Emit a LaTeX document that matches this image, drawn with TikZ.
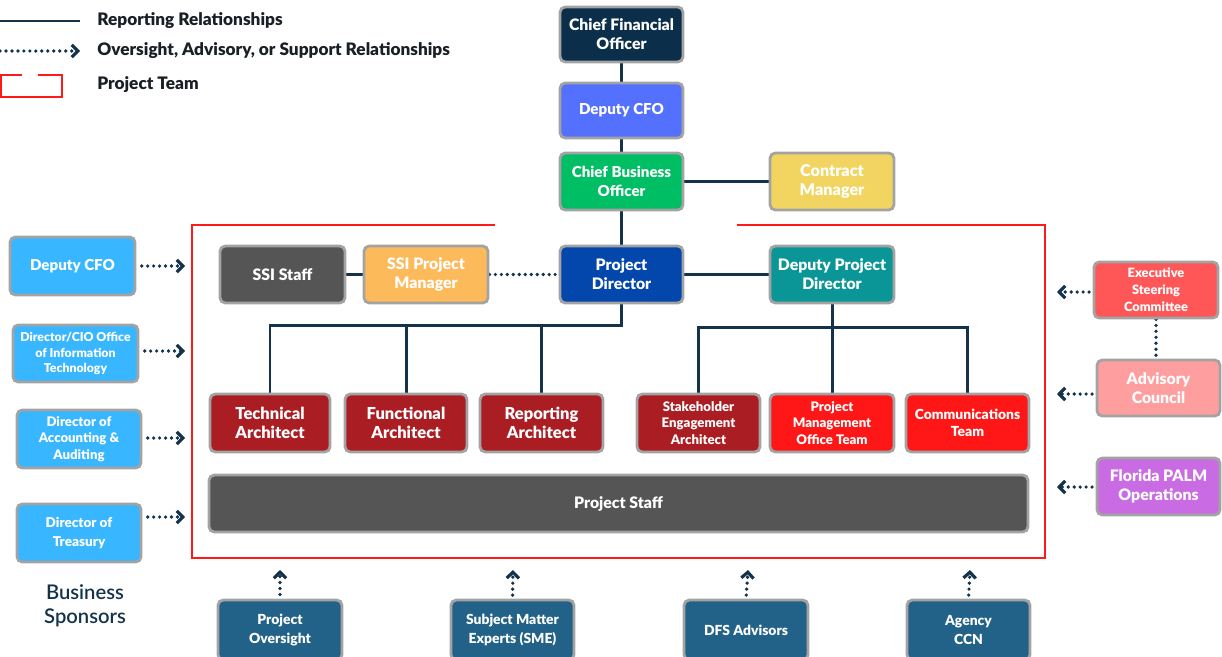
\documentclass[tikz,border=0pt]{standalone}
\usepackage{fontspec}
\IfFontExistsTF{Lato Black}{\setmainfont{Lato}[BoldFont={Lato Black}]}{\setmainfont{Lato}}
\IfFontExistsTF{Lato Semibold}{\newfontfamily\bsfont{Lato Semibold}}{\newfontfamily\bsfont{Lato}}
\usetikzlibrary{arrows.meta,backgrounds}
\definecolor{navy}{HTML}{14334B}
\definecolor{bgray}{HTML}{A3A3A3}
\definecolor{cfoc}{HTML}{0B2E4A}
\definecolor{dcfoc}{HTML}{5470FE}
\definecolor{cboc}{HTML}{00BE64}
\definecolor{contc}{HTML}{F1D560}
\definecolor{staffc}{HTML}{555555}
\definecolor{ssipmc}{HTML}{FDBA5B}
\definecolor{pdc}{HTML}{0347AD}
\definecolor{dpdc}{HTML}{0A9696}
\definecolor{dred}{HTML}{AA1E23}
\definecolor{bred}{HTML}{FF1616}
\definecolor{lblue}{HTML}{38B6FF}
\definecolor{escc}{HTML}{FF5757}
\definecolor{acc}{HTML}{FF9E9E}
\definecolor{palmc}{HTML}{C96BE2}
\definecolor{botc}{HTML}{236288}
\definecolor{frame}{HTML}{FF1A1A}
\definecolor{legtxt}{HTML}{1A1F26}
\tikzset{
  box/.style={draw=bgray, line width=1.6pt, rounded corners=3pt, text=white, align=center, inner sep=1pt,
    font=\bfseries\fontsize{9}{10.8}\selectfont},
  sbox/.style={box, font=\bfseries\fontsize{7.2}{9.4}\selectfont},
  sz/.style 2 args={minimum width=#1*0.02cm, minimum height=#2*0.02cm},
  rel/.style={draw=navy, line width=1.7pt},
  dotl/.style={draw=navy, line width=2.1pt, line cap=round, dash pattern=on 0pt off 3.4pt},
  darr/.style={dotl, -{Straight Barb[length=3.4pt,width=7pt,line width=1.8pt]}},
  legtext/.style={anchor=west, inner sep=0pt, text=legtxt, font=\bfseries\fontsize{9.8}{11}\selectfont},
  arch/.style={box, fill=dred, font=\bfseries\fontsize{9.4}{10.8}\selectfont},
}
\begin{document}
\begin{tikzpicture}[x=0.02cm,y=-0.02cm]
\useasboundingbox (0,0) rectangle (1222,656);
\clip (0,0) rectangle (1222,656);

% legend
\coordinate (la1) at (0,21); \coordinate (lb1) at (80,21);
\coordinate (la2) at (0,51); \coordinate (lb2) at (80,51);
\draw[rel] (la1) -- (lb1);
\draw[darr] (la2) -- (lb2);
\draw[draw=frame, line width=1.7pt] (22,75) -- (1,75) -- (1,97) -- (62,97) -- (62,75) -- (38,75);
\node[legtext] (lt1) at (97,21) {Reporting Relationships};
\node[legtext] (lt2) at (97,51) {Oversight, Advisory, or Support Relationships};
\node[legtext] (lt3) at (97,85) {Project Team};

% red frame
\draw[draw=frame, line width=1.5pt] (495,225) -- (192,225) -- (192,558) -- (1045,558) -- (1045,225) -- (737,225);

% top column
\node[box, fill=cfoc, sz={123}{55}] (cfo) at (621.5,34.5) {Chief Financial\\Officer};
\node[box, fill=dcfoc, sz={123}{55}, font=\bfseries\fontsize{8.6}{10.8}\selectfont] (dcfo) at (621.5,110.5) {Deputy CFO};
\node[box, fill=cboc, sz={123}{57}, font=\bfseries\fontsize{8.6}{10.8}\selectfont] (cbo) at (621.5,181.5) {Chief Business\\Officer};
\node[box, fill=contc, sz={124}{57}, font=\bfseries\fontsize{9.2}{11}\selectfont] (cont) at (832,181.5) {Contract\\Manager};

% project team row 1
\node[box, fill=staffc, sz={125}{57}] (ssistaff) at (282.5,274.5) {SSI Staff};
\node[box, fill=ssipmc, sz={124}{57}] (ssipm) at (426,274.5) {SSI Project\\Manager};
\node[box, fill=pdc, sz={123}{57}] (pd) at (621.5,274.5) {Project\\Director};
\node[box, fill=dpdc, sz={124}{57}] (dpd) at (832,274.5) {Deputy Project\\Director};

% row 2
\node[arch, sz={120}{58}] (tech) at (270,423) {Technical\\Architect};
\node[arch, sz={122}{58}] (func) at (406,423) {Functional\\Architect};
\node[arch, sz={123}{58}] (rep) at (541.5,423) {Reporting\\Architect};
\node[sbox, fill=dred, sz={123}{58}, font=\bfseries\fontsize{7.5}{9.6}\selectfont] (stake) at (698.5,423) {Stakeholder\\Engagement\\Architect};
\node[sbox, fill=bred, sz={124}{58}, font=\bfseries\fontsize{7.5}{9.6}\selectfont] (pmo) at (832,423) {Project\\Management\\Office Team};
\node[box, fill=bred, sz={123}{58}, font=\bfseries\fontsize{7.9}{9.6}\selectfont] (comm) at (967.5,423) {Communications\\Team};

\node[box, fill=staffc, sz={819}{57}, font=\bfseries\fontsize{9}{11}\selectfont] (pstaff) at (618.5,503.5) {Project Staff};

% left business sponsors
\node[box, fill=lblue, sz={125}{58}, font=\bfseries\fontsize{8.6}{10.8}\selectfont] (ldcfo) at (72.5,266) {Deputy CFO};
\node[sbox, fill=lblue, sz={125}{57}, font=\bfseries\fontsize{7}{8.8}\selectfont] (cio) at (75.5,353.5) {Director/CIO Office\\of Information\\Technology};
\node[sbox, fill=lblue, sz={124}{58}, font=\bfseries\fontsize{7.5}{9.3}\selectfont] (acct) at (79,439) {Director of\\Accounting \&\\Auditing};
\node[box, fill=lblue, sz={124}{58}, font=\bfseries\fontsize{7.7}{10.5}\selectfont] (treas) at (79,533) {Director of\\Treasury};
\node[align=center, text=navy, font=\bsfont\fontsize{11.5}{13.6}\selectfont] (bs) at (85,606) {Business\\Sponsors};

% right side
\node[sbox, fill=escc, sz={124}{56}, font=\bfseries\fontsize{7.3}{9.6}\selectfont] (esc) at (1156,290) {Executive\\Steering\\Committee};
\node[box, fill=acc, sz={123}{56}] (ac) at (1158.5,388) {Advisory\\Council};
\node[box, fill=palmc, sz={123}{57}] (palm) at (1158.5,486.5) {Florida PALM\\Operations};

% bottom
\node[box, fill=botc, sz={124}{60}, font=\bfseries\fontsize{7.9}{10.8}\selectfont] (po) at (280,630) {Project\\Oversight};
\node[box, fill=botc, sz={123}{60}, font=\bfseries\fontsize{7.9}{10.8}\selectfont] (sme) at (512.5,630) {Subject Matter\\Experts (SME)};
\node[box, fill=botc, sz={124}{60}, font=\bfseries\fontsize{7.9}{10.8}\selectfont] (dfs) at (746,630) {DFS Advisors};
\node[box, fill=botc, sz={123}{60}, font=\bfseries\fontsize{7.9}{10.8}\selectfont] (ccn) at (968.5,630) {Agency\\CCN};

% arrow end coordinates
\coordinate (al1) at (185,266);
\coordinate (al2) at (185,351);
\coordinate (al3) at (185,438);
\coordinate (al4) at (185,517);
\coordinate (ar1) at (1057,292);
\coordinate (ar2) at (1057,394);
\coordinate (ar3) at (1057,487);
\coordinate (ab1) at (280,570);
\coordinate (ab2) at (513,570);
\coordinate (ab3) at (748,570);
\coordinate (ab4) at (970,570);
\coordinate (pdbus) at (621.5,325);
\coordinate (dpdbus) at (832,327);

\begin{pgfonlayer}{background}
\draw[rel] (cfo) -- (dcfo);
\draw[rel] (dcfo) -- (cbo);
\draw[rel] (cbo) -- (cont);
\draw[rel] (cbo) -- (pd);
\draw[rel] (ssistaff) -- (ssipm);
\draw[dotl] (ssipm) -- (pd);
\draw[rel] (pd) -- (dpd);
\draw[rel] (pd.south) -- (pdbus) -| (tech.north);
\draw[rel] (pdbus) -| (func.north);
\draw[rel] (pdbus) -| (rep.north);
\draw[rel] (dpd.south) -- (pmo.north);
\draw[rel] (dpdbus) -| (stake.north);
\draw[rel] (dpdbus) -| (comm.north);
\draw[dotl] (esc.south) -- (esc.south |- ac.north);
\end{pgfonlayer}

\draw[darr, shorten <=3pt] (ldcfo.east |- al1) -- (al1);
\draw[darr, shorten <=3pt] (cio.east |- al2) -- (al2);
\draw[darr, shorten <=3pt] (acct.east |- al3) -- (al3);
\draw[darr, shorten <=3pt] (treas.east |- al4) -- (al4);
\draw[darr, shorten <=2pt] (esc.west |- ar1) -- (ar1);
\draw[darr, shorten <=2pt] (ac.west |- ar2) -- (ar2);
\draw[darr, shorten <=2pt] (palm.west |- ar3) -- (ar3);
\draw[darr, shorten <=2pt] (po.north |- 0,598) -- (ab1);
\draw[darr, shorten <=2pt] (sme.north) -- (ab2);
\draw[darr, shorten <=2pt] (dfs.north) -- (ab3);
\draw[darr, shorten <=2pt] (ccn.north) -- (ab4);
\end{tikzpicture}
\end{document}
